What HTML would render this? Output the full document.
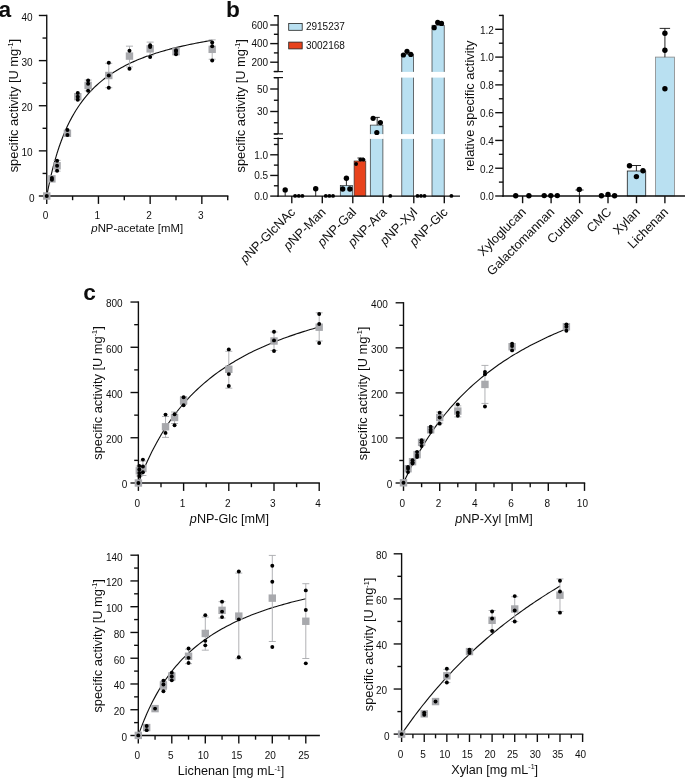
<!DOCTYPE html>
<html lang="en"><head><meta charset="utf-8"><title>Figure</title>
<style>
html,body{margin:0;padding:0;background:#fff;}
svg{display:block;font-family:"Liberation Sans", Arial, Helvetica, sans-serif;fill:#111;}
</style></head><body>
<svg width="685" height="778" viewBox="0 0 685 778">
<rect width="685" height="778" fill="#fff"/>
<defs><filter id="soft" x="0" y="0" width="685" height="778" filterUnits="userSpaceOnUse"><feGaussianBlur stdDeviation="0.35"/></filter></defs>
<g filter="url(#soft)">
<text x="-1.60" y="16.90" font-size="22.7" text-anchor="start" font-weight="bold">a</text>
<text x="226.00" y="16.90" font-size="22.7" text-anchor="start" font-weight="bold">b</text>
<text x="83.30" y="300.30" font-size="22.7" text-anchor="start" font-weight="bold">c</text>
<polyline points="46.75,196.00 48.82,185.51 50.89,176.13 52.95,167.68 55.02,160.04 57.09,153.10 59.16,146.75 61.23,140.94 63.29,135.59 65.36,130.65 67.43,126.08 69.50,121.84 71.57,117.88 73.63,114.20 75.70,110.75 77.77,107.51 79.84,104.47 81.91,101.61 83.97,98.91 86.04,96.37 88.11,93.96 90.18,91.67 92.25,89.51 94.31,87.45 96.38,85.50 98.45,83.63 100.52,81.85 102.59,80.16 104.65,78.54 106.72,76.99 108.79,75.50 110.86,74.08 112.93,72.72 114.99,71.41 117.06,70.15 119.13,68.94 121.20,67.77 123.27,66.65 125.33,65.57 127.40,64.53 129.47,63.52 131.54,62.55 133.61,61.62 135.67,60.71 137.74,59.83 139.81,58.98 141.88,58.16 143.95,57.37 146.01,56.59 148.08,55.85 150.15,55.12 152.22,54.42 154.29,53.73 156.35,53.07 158.42,52.42 160.49,51.79 162.56,51.18 164.63,50.59 166.69,50.01 168.76,49.45 170.83,48.90 172.90,48.37 174.97,47.84 177.03,47.34 179.10,46.84 181.17,46.36 183.24,45.89 185.31,45.43 187.37,44.98 189.44,44.54 191.51,44.11 193.58,43.69 195.65,43.28 197.71,42.88 199.78,42.49 201.85,42.10 203.92,41.73 205.99,41.36 208.05,41.00 210.12,40.65 212.19,40.31" fill="none" stroke="#111" stroke-width="1.12"/>
<line x1="46.75" y1="196.69" x2="46.75" y2="14.71" stroke="#111" stroke-width="1.38" stroke-linecap="butt"/>
<line x1="38.85" y1="196.00" x2="46.75" y2="196.00" stroke="#111" stroke-width="1.38" stroke-linecap="butt"/>
<line x1="38.85" y1="150.87" x2="46.75" y2="150.87" stroke="#111" stroke-width="1.38" stroke-linecap="butt"/>
<line x1="38.85" y1="105.74" x2="46.75" y2="105.74" stroke="#111" stroke-width="1.38" stroke-linecap="butt"/>
<line x1="38.85" y1="60.61" x2="46.75" y2="60.61" stroke="#111" stroke-width="1.38" stroke-linecap="butt"/>
<line x1="38.85" y1="15.48" x2="46.75" y2="15.48" stroke="#111" stroke-width="1.38" stroke-linecap="butt"/>
<line x1="42.55" y1="173.44" x2="46.75" y2="173.44" stroke="#111" stroke-width="1.38" stroke-linecap="butt"/>
<line x1="42.55" y1="128.31" x2="46.75" y2="128.31" stroke="#111" stroke-width="1.38" stroke-linecap="butt"/>
<line x1="42.55" y1="83.17" x2="46.75" y2="83.17" stroke="#111" stroke-width="1.38" stroke-linecap="butt"/>
<line x1="42.55" y1="38.05" x2="46.75" y2="38.05" stroke="#111" stroke-width="1.38" stroke-linecap="butt"/>
<text x="34.45" y="201.50" font-size="10" text-anchor="end">0</text>
<text x="32.65" y="156.37" font-size="10" text-anchor="end">10</text>
<text x="32.65" y="111.24" font-size="10" text-anchor="end">20</text>
<text x="32.65" y="66.11" font-size="10" text-anchor="end">30</text>
<text x="32.65" y="20.98" font-size="10" text-anchor="end">40</text>
<line x1="46.06" y1="196.00" x2="228.39" y2="196.00" stroke="#111" stroke-width="1.38" stroke-linecap="butt"/>
<line x1="46.75" y1="196.00" x2="46.75" y2="203.90" stroke="#111" stroke-width="1.38" stroke-linecap="butt"/>
<line x1="98.45" y1="196.00" x2="98.45" y2="203.90" stroke="#111" stroke-width="1.38" stroke-linecap="butt"/>
<line x1="150.15" y1="196.00" x2="150.15" y2="203.90" stroke="#111" stroke-width="1.38" stroke-linecap="butt"/>
<line x1="201.85" y1="196.00" x2="201.85" y2="203.90" stroke="#111" stroke-width="1.38" stroke-linecap="butt"/>
<line x1="72.60" y1="196.00" x2="72.60" y2="200.20" stroke="#111" stroke-width="1.38" stroke-linecap="butt"/>
<line x1="124.30" y1="196.00" x2="124.30" y2="200.20" stroke="#111" stroke-width="1.38" stroke-linecap="butt"/>
<line x1="176.00" y1="196.00" x2="176.00" y2="200.20" stroke="#111" stroke-width="1.38" stroke-linecap="butt"/>
<line x1="227.70" y1="196.00" x2="227.70" y2="200.20" stroke="#111" stroke-width="1.38" stroke-linecap="butt"/>
<text x="45.65" y="219.20" font-size="10" text-anchor="middle">0</text>
<text x="97.35" y="219.20" font-size="10" text-anchor="middle">1</text>
<text x="149.05" y="219.20" font-size="10" text-anchor="middle">2</text>
<text x="200.75" y="219.20" font-size="10" text-anchor="middle">3</text>
<text x="18.30" y="105.60" font-size="12.85" text-anchor="middle" transform="rotate(-90 18.30 105.60)">specific activity [U mg<tspan font-size="56%" dy="-0.68em">-1</tspan><tspan dy="0.38em">]</tspan></text>
<text x="137.20" y="232.00" font-size="11.4" text-anchor="middle"><tspan font-style="italic">p</tspan>NP-acetate [mM]</text>
<line x1="57.09" y1="160.35" x2="57.09" y2="171.18" stroke="#a8a9ad" stroke-width="0.9" stroke-linecap="butt"/>
<line x1="53.59" y1="160.35" x2="60.59" y2="160.35" stroke="#a8a9ad" stroke-width="0.9" stroke-linecap="butt"/>
<line x1="53.59" y1="171.18" x2="60.59" y2="171.18" stroke="#a8a9ad" stroke-width="0.9" stroke-linecap="butt"/>
<line x1="88.11" y1="80.02" x2="88.11" y2="90.85" stroke="#a8a9ad" stroke-width="0.9" stroke-linecap="butt"/>
<line x1="84.61" y1="80.02" x2="91.61" y2="80.02" stroke="#a8a9ad" stroke-width="0.9" stroke-linecap="butt"/>
<line x1="84.61" y1="90.85" x2="91.61" y2="90.85" stroke="#a8a9ad" stroke-width="0.9" stroke-linecap="butt"/>
<line x1="108.79" y1="63.32" x2="108.79" y2="87.69" stroke="#a8a9ad" stroke-width="0.9" stroke-linecap="butt"/>
<line x1="105.29" y1="63.32" x2="112.29" y2="63.32" stroke="#a8a9ad" stroke-width="0.9" stroke-linecap="butt"/>
<line x1="105.29" y1="87.69" x2="112.29" y2="87.69" stroke="#a8a9ad" stroke-width="0.9" stroke-linecap="butt"/>
<line x1="129.47" y1="46.17" x2="129.47" y2="66.93" stroke="#a8a9ad" stroke-width="0.9" stroke-linecap="butt"/>
<line x1="125.97" y1="46.17" x2="132.97" y2="46.17" stroke="#a8a9ad" stroke-width="0.9" stroke-linecap="butt"/>
<line x1="125.97" y1="66.93" x2="132.97" y2="66.93" stroke="#a8a9ad" stroke-width="0.9" stroke-linecap="butt"/>
<line x1="150.15" y1="42.11" x2="150.15" y2="55.65" stroke="#a8a9ad" stroke-width="0.9" stroke-linecap="butt"/>
<line x1="146.65" y1="42.11" x2="153.65" y2="42.11" stroke="#a8a9ad" stroke-width="0.9" stroke-linecap="butt"/>
<line x1="146.65" y1="55.65" x2="153.65" y2="55.65" stroke="#a8a9ad" stroke-width="0.9" stroke-linecap="butt"/>
<line x1="176.00" y1="47.97" x2="176.00" y2="54.74" stroke="#a8a9ad" stroke-width="0.9" stroke-linecap="butt"/>
<line x1="172.50" y1="47.97" x2="179.50" y2="47.97" stroke="#a8a9ad" stroke-width="0.9" stroke-linecap="butt"/>
<line x1="172.50" y1="54.74" x2="179.50" y2="54.74" stroke="#a8a9ad" stroke-width="0.9" stroke-linecap="butt"/>
<line x1="212.19" y1="39.85" x2="212.19" y2="59.26" stroke="#a8a9ad" stroke-width="0.9" stroke-linecap="butt"/>
<line x1="208.69" y1="39.85" x2="215.69" y2="39.85" stroke="#a8a9ad" stroke-width="0.9" stroke-linecap="butt"/>
<line x1="208.69" y1="59.26" x2="215.69" y2="59.26" stroke="#a8a9ad" stroke-width="0.9" stroke-linecap="butt"/>
<rect x="43.05" y="192.30" width="7.40" height="7.40" fill="#a8a9ad"/>
<rect x="48.22" y="175.15" width="7.40" height="7.40" fill="#a8a9ad"/>
<rect x="53.39" y="162.06" width="7.40" height="7.40" fill="#a8a9ad"/>
<rect x="63.73" y="129.57" width="7.40" height="7.40" fill="#a8a9ad"/>
<rect x="74.07" y="93.01" width="7.40" height="7.40" fill="#a8a9ad"/>
<rect x="84.41" y="81.73" width="7.40" height="7.40" fill="#a8a9ad"/>
<rect x="105.09" y="71.80" width="7.40" height="7.40" fill="#a8a9ad"/>
<rect x="125.77" y="52.40" width="7.40" height="7.40" fill="#a8a9ad"/>
<rect x="146.45" y="45.18" width="7.40" height="7.40" fill="#a8a9ad"/>
<rect x="172.30" y="47.88" width="7.40" height="7.40" fill="#a8a9ad"/>
<rect x="208.49" y="45.63" width="7.40" height="7.40" fill="#a8a9ad"/>
<circle cx="46.75" cy="196.00" r="2.0" fill="#000"/>
<circle cx="51.92" cy="179.75" r="2.0" fill="#000"/>
<circle cx="51.92" cy="177.95" r="2.0" fill="#000"/>
<circle cx="57.09" cy="170.73" r="2.0" fill="#000"/>
<circle cx="57.09" cy="165.76" r="2.0" fill="#000"/>
<circle cx="57.09" cy="160.80" r="2.0" fill="#000"/>
<circle cx="67.43" cy="135.07" r="2.0" fill="#000"/>
<circle cx="67.43" cy="130.11" r="2.0" fill="#000"/>
<circle cx="77.77" cy="99.87" r="2.0" fill="#000"/>
<circle cx="77.77" cy="96.71" r="2.0" fill="#000"/>
<circle cx="77.77" cy="93.10" r="2.0" fill="#000"/>
<circle cx="88.11" cy="90.85" r="2.0" fill="#000"/>
<circle cx="88.11" cy="83.63" r="2.0" fill="#000"/>
<circle cx="88.11" cy="80.47" r="2.0" fill="#000"/>
<circle cx="108.79" cy="87.69" r="2.0" fill="#000"/>
<circle cx="108.79" cy="75.50" r="2.0" fill="#000"/>
<circle cx="108.79" cy="62.87" r="2.0" fill="#000"/>
<circle cx="129.47" cy="68.73" r="2.0" fill="#000"/>
<circle cx="129.47" cy="50.68" r="2.0" fill="#000"/>
<circle cx="150.15" cy="57.00" r="2.0" fill="#000"/>
<circle cx="150.15" cy="47.07" r="2.0" fill="#000"/>
<circle cx="150.15" cy="45.27" r="2.0" fill="#000"/>
<circle cx="176.00" cy="54.29" r="2.0" fill="#000"/>
<circle cx="176.00" cy="51.58" r="2.0" fill="#000"/>
<circle cx="176.00" cy="50.23" r="2.0" fill="#000"/>
<circle cx="212.19" cy="60.61" r="2.0" fill="#000"/>
<circle cx="212.19" cy="46.17" r="2.0" fill="#000"/>
<circle cx="212.19" cy="42.56" r="2.0" fill="#000"/>
<rect x="340.30" y="185.36" width="12.20" height="10.74" fill="#b9e0f1" stroke="#333" stroke-width="0.7"/>
<rect x="354.10" y="161.00" width="11.70" height="35.10" fill="#e8421d" stroke="#333" stroke-width="0.7"/>
<rect x="370.30" y="125.11" width="12.60" height="70.99" fill="#b9e0f1" stroke="#333" stroke-width="0.7"/>
<rect x="369.30" y="134.10" width="14.60" height="4.80" fill="#fff"/>
<rect x="401.80" y="54.30" width="11.70" height="141.81" fill="#b9e0f1" stroke="#333" stroke-width="0.7"/>
<rect x="400.80" y="134.10" width="13.70" height="4.80" fill="#fff"/>
<rect x="400.80" y="71.90" width="13.70" height="5.70" fill="#fff"/>
<rect x="432.00" y="25.28" width="12.20" height="170.82" fill="#b9e0f1" stroke="#333" stroke-width="0.7"/>
<rect x="431.00" y="134.10" width="14.20" height="4.80" fill="#fff"/>
<rect x="431.00" y="71.90" width="14.20" height="5.70" fill="#fff"/>
<line x1="278.10" y1="196.79" x2="278.10" y2="137.59" stroke="#111" stroke-width="1.38" stroke-linecap="butt"/>
<line x1="270.20" y1="196.10" x2="278.10" y2="196.10" stroke="#111" stroke-width="1.38" stroke-linecap="butt"/>
<line x1="270.20" y1="175.45" x2="278.10" y2="175.45" stroke="#111" stroke-width="1.38" stroke-linecap="butt"/>
<line x1="270.20" y1="154.80" x2="278.10" y2="154.80" stroke="#111" stroke-width="1.38" stroke-linecap="butt"/>
<line x1="273.90" y1="185.78" x2="278.10" y2="185.78" stroke="#111" stroke-width="1.38" stroke-linecap="butt"/>
<line x1="273.90" y1="165.12" x2="278.10" y2="165.12" stroke="#111" stroke-width="1.38" stroke-linecap="butt"/>
<line x1="273.90" y1="144.47" x2="278.10" y2="144.47" stroke="#111" stroke-width="1.38" stroke-linecap="butt"/>
<text x="268.20" y="199.80" font-size="10" text-anchor="end">0.0</text>
<text x="268.20" y="179.15" font-size="10" text-anchor="end">0.5</text>
<text x="268.20" y="158.50" font-size="10" text-anchor="end">1.0</text>
<line x1="278.10" y1="133.90" x2="278.10" y2="77.60" stroke="#111" stroke-width="1.38" stroke-linecap="butt"/>
<line x1="270.20" y1="111.50" x2="278.10" y2="111.50" stroke="#111" stroke-width="1.38" stroke-linecap="butt"/>
<text x="268.20" y="115.10" font-size="10" text-anchor="end">30</text>
<line x1="270.20" y1="89.00" x2="278.10" y2="89.00" stroke="#111" stroke-width="1.38" stroke-linecap="butt"/>
<text x="268.20" y="92.60" font-size="10" text-anchor="end">50</text>
<line x1="273.90" y1="134.00" x2="278.10" y2="134.00" stroke="#111" stroke-width="1.38" stroke-linecap="butt"/>
<line x1="273.90" y1="122.75" x2="278.10" y2="122.75" stroke="#111" stroke-width="1.38" stroke-linecap="butt"/>
<line x1="273.90" y1="100.25" x2="278.10" y2="100.25" stroke="#111" stroke-width="1.38" stroke-linecap="butt"/>
<line x1="273.90" y1="77.75" x2="278.10" y2="77.75" stroke="#111" stroke-width="1.38" stroke-linecap="butt"/>
<line x1="278.10" y1="71.60" x2="278.10" y2="15.01" stroke="#111" stroke-width="1.38" stroke-linecap="butt"/>
<line x1="270.20" y1="62.20" x2="278.10" y2="62.20" stroke="#111" stroke-width="1.38" stroke-linecap="butt"/>
<text x="268.20" y="65.70" font-size="10" text-anchor="end">200</text>
<line x1="270.20" y1="43.60" x2="278.10" y2="43.60" stroke="#111" stroke-width="1.38" stroke-linecap="butt"/>
<text x="268.20" y="47.10" font-size="10" text-anchor="end">400</text>
<line x1="270.20" y1="25.00" x2="278.10" y2="25.00" stroke="#111" stroke-width="1.38" stroke-linecap="butt"/>
<text x="268.20" y="28.50" font-size="10" text-anchor="end">600</text>
<line x1="273.90" y1="71.50" x2="278.10" y2="71.50" stroke="#111" stroke-width="1.38" stroke-linecap="butt"/>
<line x1="273.90" y1="52.90" x2="278.10" y2="52.90" stroke="#111" stroke-width="1.38" stroke-linecap="butt"/>
<line x1="273.90" y1="34.30" x2="278.10" y2="34.30" stroke="#111" stroke-width="1.38" stroke-linecap="butt"/>
<line x1="273.90" y1="15.70" x2="278.10" y2="15.70" stroke="#111" stroke-width="1.38" stroke-linecap="butt"/>
<line x1="273.70" y1="133.90" x2="283.00" y2="133.90" stroke="#111" stroke-width="1.1" stroke-linecap="butt"/>
<line x1="273.70" y1="138.50" x2="283.00" y2="138.50" stroke="#111" stroke-width="1.1" stroke-linecap="butt"/>
<line x1="273.70" y1="71.60" x2="283.00" y2="71.60" stroke="#111" stroke-width="1.1" stroke-linecap="butt"/>
<line x1="273.70" y1="77.60" x2="283.00" y2="77.60" stroke="#111" stroke-width="1.1" stroke-linecap="butt"/>
<line x1="277.41" y1="196.10" x2="460.00" y2="196.10" stroke="#111" stroke-width="1.38" stroke-linecap="butt"/>
<line x1="291.80" y1="196.10" x2="291.80" y2="203.30" stroke="#111" stroke-width="1.38" stroke-linecap="butt"/>
<line x1="322.30" y1="196.10" x2="322.30" y2="203.30" stroke="#111" stroke-width="1.38" stroke-linecap="butt"/>
<line x1="352.80" y1="196.10" x2="352.80" y2="203.30" stroke="#111" stroke-width="1.38" stroke-linecap="butt"/>
<line x1="383.30" y1="196.10" x2="383.30" y2="203.30" stroke="#111" stroke-width="1.38" stroke-linecap="butt"/>
<line x1="413.80" y1="196.10" x2="413.80" y2="203.30" stroke="#111" stroke-width="1.38" stroke-linecap="butt"/>
<line x1="444.30" y1="196.10" x2="444.30" y2="203.30" stroke="#111" stroke-width="1.38" stroke-linecap="butt"/>
<line x1="285.20" y1="189.90" x2="285.20" y2="196.10" stroke="#111" stroke-width="0.9" stroke-linecap="butt"/>
<circle cx="285.20" cy="189.90" r="2.7" fill="#000"/>
<circle cx="295.10" cy="195.90" r="1.95" fill="#000"/>
<circle cx="298.80" cy="195.90" r="1.95" fill="#000"/>
<circle cx="302.40" cy="195.90" r="1.95" fill="#000"/>
<line x1="315.70" y1="188.70" x2="315.70" y2="196.10" stroke="#111" stroke-width="0.9" stroke-linecap="butt"/>
<circle cx="315.70" cy="188.70" r="2.7" fill="#000"/>
<circle cx="325.80" cy="195.90" r="1.95" fill="#000"/>
<circle cx="329.40" cy="195.90" r="1.95" fill="#000"/>
<circle cx="333.00" cy="195.90" r="1.95" fill="#000"/>
<line x1="346.40" y1="178.20" x2="346.40" y2="185.50" stroke="#111" stroke-width="0.9" stroke-linecap="butt"/>
<circle cx="346.40" cy="178.20" r="2.7" fill="#000"/>
<circle cx="342.70" cy="189.00" r="2.7" fill="#000"/>
<circle cx="349.90" cy="189.00" r="2.7" fill="#000"/>
<line x1="360.00" y1="158.00" x2="360.00" y2="161.00" stroke="#111" stroke-width="0.9" stroke-linecap="butt"/>
<line x1="357.50" y1="158.00" x2="363.80" y2="158.00" stroke="#111" stroke-width="0.9" stroke-linecap="butt"/>
<circle cx="356.10" cy="164.00" r="1.95" fill="#000"/>
<circle cx="360.40" cy="159.60" r="1.95" fill="#000"/>
<circle cx="363.40" cy="159.60" r="1.95" fill="#000"/>
<line x1="377.20" y1="117.40" x2="377.20" y2="125.20" stroke="#111" stroke-width="0.9" stroke-linecap="butt"/>
<line x1="374.60" y1="117.40" x2="379.80" y2="117.40" stroke="#111" stroke-width="0.9" stroke-linecap="butt"/>
<circle cx="373.10" cy="118.30" r="2.6" fill="#000"/>
<circle cx="380.40" cy="122.60" r="2.6" fill="#000"/>
<circle cx="376.80" cy="132.50" r="2.6" fill="#000"/>
<circle cx="390.30" cy="195.90" r="1.9" fill="#000"/>
<circle cx="403.40" cy="55.00" r="2.6" fill="#000"/>
<circle cx="407.00" cy="51.30" r="2.6" fill="#000"/>
<circle cx="410.80" cy="54.40" r="2.6" fill="#000"/>
<circle cx="417.50" cy="195.90" r="1.9" fill="#000"/>
<circle cx="421.00" cy="195.90" r="1.9" fill="#000"/>
<circle cx="424.50" cy="195.90" r="1.9" fill="#000"/>
<circle cx="434.20" cy="27.70" r="2.6" fill="#000"/>
<circle cx="437.70" cy="22.40" r="2.6" fill="#000"/>
<circle cx="441.50" cy="23.40" r="2.6" fill="#000"/>
<circle cx="451.40" cy="195.90" r="1.9" fill="#000"/>
<text x="296.00" y="212.90" font-size="12.7" text-anchor="end" transform="rotate(-45 296.00 212.90)"><tspan font-style="italic">p</tspan>NP-GlcNAc</text>
<text x="326.50" y="212.90" font-size="12.7" text-anchor="end" transform="rotate(-45 326.50 212.90)"><tspan font-style="italic">p</tspan>NP-Man</text>
<text x="357.00" y="212.90" font-size="12.7" text-anchor="end" transform="rotate(-45 357.00 212.90)"><tspan font-style="italic">p</tspan>NP-Gal</text>
<text x="387.50" y="212.90" font-size="12.7" text-anchor="end" transform="rotate(-45 387.50 212.90)"><tspan font-style="italic">p</tspan>NP-Ara</text>
<text x="418.00" y="212.90" font-size="12.7" text-anchor="end" transform="rotate(-45 418.00 212.90)"><tspan font-style="italic">p</tspan>NP-Xyl</text>
<text x="448.50" y="212.90" font-size="12.7" text-anchor="end" transform="rotate(-45 448.50 212.90)"><tspan font-style="italic">p</tspan>NP-Glc</text>
<rect x="288.70" y="23.50" width="13.50" height="6.80" fill="#b9e0f1" stroke="#222" stroke-width="0.8"/>
<rect x="288.70" y="42.10" width="13.50" height="6.80" fill="#e8421d" stroke="#222" stroke-width="0.8"/>
<text x="305.90" y="30.40" font-size="10" text-anchor="start">2915237</text>
<text x="305.90" y="49.10" font-size="10" text-anchor="start">3002168</text>
<text x="245.10" y="105.80" font-size="12.85" text-anchor="middle" transform="rotate(-90 245.10 105.80)">specific activity [U mg<tspan font-size="56%" dy="-0.68em">-1</tspan><tspan dy="0.38em">]</tspan></text>
<rect x="627.30" y="171.00" width="18.40" height="25.00" fill="#b9e0f1" stroke="#222" stroke-width="0.8"/>
<rect x="655.50" y="57.10" width="19.00" height="138.90" fill="#b9e0f1" stroke="#888" stroke-width="0.8"/>
<line x1="503.10" y1="196.69" x2="503.10" y2="14.74" stroke="#111" stroke-width="1.38" stroke-linecap="butt"/>
<line x1="495.20" y1="196.00" x2="503.10" y2="196.00" stroke="#111" stroke-width="1.38" stroke-linecap="butt"/>
<line x1="495.20" y1="168.22" x2="503.10" y2="168.22" stroke="#111" stroke-width="1.38" stroke-linecap="butt"/>
<line x1="495.20" y1="140.44" x2="503.10" y2="140.44" stroke="#111" stroke-width="1.38" stroke-linecap="butt"/>
<line x1="495.20" y1="112.66" x2="503.10" y2="112.66" stroke="#111" stroke-width="1.38" stroke-linecap="butt"/>
<line x1="495.20" y1="84.88" x2="503.10" y2="84.88" stroke="#111" stroke-width="1.38" stroke-linecap="butt"/>
<line x1="495.20" y1="57.10" x2="503.10" y2="57.10" stroke="#111" stroke-width="1.38" stroke-linecap="butt"/>
<line x1="495.20" y1="29.32" x2="503.10" y2="29.32" stroke="#111" stroke-width="1.38" stroke-linecap="butt"/>
<line x1="498.90" y1="182.11" x2="503.10" y2="182.11" stroke="#111" stroke-width="1.38" stroke-linecap="butt"/>
<line x1="498.90" y1="154.33" x2="503.10" y2="154.33" stroke="#111" stroke-width="1.38" stroke-linecap="butt"/>
<line x1="498.90" y1="126.55" x2="503.10" y2="126.55" stroke="#111" stroke-width="1.38" stroke-linecap="butt"/>
<line x1="498.90" y1="98.77" x2="503.10" y2="98.77" stroke="#111" stroke-width="1.38" stroke-linecap="butt"/>
<line x1="498.90" y1="70.99" x2="503.10" y2="70.99" stroke="#111" stroke-width="1.38" stroke-linecap="butt"/>
<line x1="498.90" y1="43.21" x2="503.10" y2="43.21" stroke="#111" stroke-width="1.38" stroke-linecap="butt"/>
<line x1="498.90" y1="15.43" x2="503.10" y2="15.43" stroke="#111" stroke-width="1.38" stroke-linecap="butt"/>
<text x="493.90" y="200.30" font-size="10" text-anchor="end">0.0</text>
<text x="493.90" y="172.52" font-size="10" text-anchor="end">0.2</text>
<text x="493.90" y="144.74" font-size="10" text-anchor="end">0.4</text>
<text x="493.90" y="116.96" font-size="10" text-anchor="end">0.6</text>
<text x="493.90" y="89.18" font-size="10" text-anchor="end">0.8</text>
<text x="493.90" y="61.40" font-size="10" text-anchor="end">1.0</text>
<text x="493.90" y="33.62" font-size="10" text-anchor="end">1.2</text>
<line x1="502.41" y1="196.00" x2="685.00" y2="196.00" stroke="#111" stroke-width="1.38" stroke-linecap="butt"/>
<line x1="522.60" y1="196.00" x2="522.60" y2="203.20" stroke="#111" stroke-width="1.38" stroke-linecap="butt"/>
<line x1="551.10" y1="196.00" x2="551.10" y2="203.20" stroke="#111" stroke-width="1.38" stroke-linecap="butt"/>
<line x1="579.60" y1="196.00" x2="579.60" y2="203.20" stroke="#111" stroke-width="1.38" stroke-linecap="butt"/>
<line x1="608.00" y1="196.00" x2="608.00" y2="203.20" stroke="#111" stroke-width="1.38" stroke-linecap="butt"/>
<line x1="636.50" y1="196.00" x2="636.50" y2="203.20" stroke="#111" stroke-width="1.38" stroke-linecap="butt"/>
<line x1="664.90" y1="196.00" x2="664.90" y2="203.20" stroke="#111" stroke-width="1.38" stroke-linecap="butt"/>
<circle cx="515.70" cy="195.80" r="2.7" fill="#000"/>
<circle cx="528.90" cy="195.80" r="2.7" fill="#000"/>
<circle cx="544.20" cy="195.60" r="2.7" fill="#000"/>
<circle cx="550.80" cy="195.60" r="2.7" fill="#000"/>
<circle cx="557.30" cy="195.60" r="2.7" fill="#000"/>
<line x1="579.40" y1="189.40" x2="579.40" y2="196.00" stroke="#111" stroke-width="0.9" stroke-linecap="butt"/>
<line x1="575.50" y1="190.00" x2="583.50" y2="190.00" stroke="#111" stroke-width="0.9" stroke-linecap="butt"/>
<circle cx="579.30" cy="189.40" r="2.7" fill="#000"/>
<circle cx="601.40" cy="195.70" r="2.7" fill="#000"/>
<circle cx="608.00" cy="194.40" r="2.7" fill="#000"/>
<circle cx="614.60" cy="195.70" r="2.7" fill="#000"/>
<line x1="636.40" y1="165.50" x2="636.40" y2="171.00" stroke="#111" stroke-width="0.9" stroke-linecap="butt"/>
<line x1="632.00" y1="165.50" x2="641.00" y2="165.50" stroke="#111" stroke-width="0.9" stroke-linecap="butt"/>
<circle cx="629.50" cy="165.80" r="2.7" fill="#000"/>
<circle cx="643.00" cy="170.70" r="2.7" fill="#000"/>
<circle cx="636.40" cy="176.60" r="2.7" fill="#000"/>
<line x1="664.90" y1="28.40" x2="664.90" y2="57.20" stroke="#111" stroke-width="0.9" stroke-linecap="butt"/>
<line x1="659.70" y1="28.40" x2="670.10" y2="28.40" stroke="#111" stroke-width="0.9" stroke-linecap="butt"/>
<circle cx="664.90" cy="33.30" r="2.7" fill="#000"/>
<circle cx="664.90" cy="50.30" r="2.7" fill="#000"/>
<circle cx="664.90" cy="88.80" r="2.7" fill="#000"/>
<text x="526.80" y="212.80" font-size="12.7" text-anchor="end" transform="rotate(-45 526.80 212.80)">Xyloglucan</text>
<text x="555.30" y="212.80" font-size="12.7" text-anchor="end" transform="rotate(-45 555.30 212.80)">Galactomannan</text>
<text x="583.80" y="212.80" font-size="12.7" text-anchor="end" transform="rotate(-45 583.80 212.80)">Curdlan</text>
<text x="612.20" y="212.80" font-size="12.7" text-anchor="end" transform="rotate(-45 612.20 212.80)">CMC</text>
<text x="640.70" y="212.80" font-size="12.7" text-anchor="end" transform="rotate(-45 640.70 212.80)">Xylan</text>
<text x="669.10" y="212.80" font-size="12.7" text-anchor="end" transform="rotate(-45 669.10 212.80)">Lichenan</text>
<text x="474.50" y="105.80" font-size="12.85" text-anchor="middle" transform="rotate(-90 474.50 105.80)">relative specific activity</text>
<polyline points="138.40,483.00 140.66,477.10 142.92,471.49 145.18,466.15 147.44,461.07 149.70,456.23 151.96,451.60 154.22,447.18 156.48,442.96 158.74,438.91 161.00,435.03 163.26,431.31 165.52,427.74 167.78,424.31 170.04,421.02 172.30,417.84 174.56,414.79 176.82,411.84 179.08,409.00 181.34,406.26 183.60,403.62 185.86,401.06 188.12,398.59 190.38,396.20 192.64,393.89 194.90,391.65 197.16,389.49 199.42,387.38 201.68,385.35 203.94,383.37 206.20,381.45 208.46,379.59 210.72,377.78 212.98,376.02 215.24,374.31 217.50,372.64 219.76,371.03 222.02,369.45 224.28,367.92 226.54,366.42 228.80,364.97 231.06,363.55 233.32,362.17 235.58,360.82 237.84,359.50 240.10,358.22 242.36,356.96 244.62,355.74 246.88,354.54 249.14,353.37 251.40,352.23 253.66,351.12 255.92,350.03 258.18,348.96 260.44,347.91 262.70,346.89 264.96,345.89 267.22,344.91 269.48,343.96 271.74,343.02 274.00,342.10 276.26,341.20 278.52,340.31 280.78,339.45 283.04,338.60 285.30,337.77 287.56,336.95 289.82,336.15 292.08,335.37 294.34,334.60 296.60,333.84 298.86,333.10 301.12,332.37 303.38,331.65 305.64,330.95 307.90,330.26 310.16,329.58 312.42,328.92 314.68,328.26 316.94,327.62 319.20,326.98" fill="none" stroke="#111" stroke-width="1.12"/>
<line x1="138.40" y1="483.69" x2="138.40" y2="301.35" stroke="#111" stroke-width="1.38" stroke-linecap="butt"/>
<line x1="130.50" y1="483.00" x2="138.40" y2="483.00" stroke="#111" stroke-width="1.38" stroke-linecap="butt"/>
<line x1="130.50" y1="437.76" x2="138.40" y2="437.76" stroke="#111" stroke-width="1.38" stroke-linecap="butt"/>
<line x1="130.50" y1="392.52" x2="138.40" y2="392.52" stroke="#111" stroke-width="1.38" stroke-linecap="butt"/>
<line x1="130.50" y1="347.28" x2="138.40" y2="347.28" stroke="#111" stroke-width="1.38" stroke-linecap="butt"/>
<line x1="130.50" y1="302.04" x2="138.40" y2="302.04" stroke="#111" stroke-width="1.38" stroke-linecap="butt"/>
<line x1="134.20" y1="460.38" x2="138.40" y2="460.38" stroke="#111" stroke-width="1.38" stroke-linecap="butt"/>
<line x1="134.20" y1="415.14" x2="138.40" y2="415.14" stroke="#111" stroke-width="1.38" stroke-linecap="butt"/>
<line x1="134.20" y1="369.90" x2="138.40" y2="369.90" stroke="#111" stroke-width="1.38" stroke-linecap="butt"/>
<line x1="134.20" y1="324.66" x2="138.40" y2="324.66" stroke="#111" stroke-width="1.38" stroke-linecap="butt"/>
<text x="127.20" y="488.40" font-size="10" text-anchor="end">0</text>
<text x="122.70" y="443.16" font-size="10" text-anchor="end">200</text>
<text x="122.70" y="397.92" font-size="10" text-anchor="end">400</text>
<text x="122.70" y="352.68" font-size="10" text-anchor="end">600</text>
<text x="122.70" y="307.44" font-size="10" text-anchor="end">800</text>
<line x1="137.71" y1="483.00" x2="319.89" y2="483.00" stroke="#111" stroke-width="1.38" stroke-linecap="butt"/>
<line x1="138.40" y1="483.00" x2="138.40" y2="490.90" stroke="#111" stroke-width="1.38" stroke-linecap="butt"/>
<line x1="183.60" y1="483.00" x2="183.60" y2="490.90" stroke="#111" stroke-width="1.38" stroke-linecap="butt"/>
<line x1="228.80" y1="483.00" x2="228.80" y2="490.90" stroke="#111" stroke-width="1.38" stroke-linecap="butt"/>
<line x1="274.00" y1="483.00" x2="274.00" y2="490.90" stroke="#111" stroke-width="1.38" stroke-linecap="butt"/>
<line x1="319.20" y1="483.00" x2="319.20" y2="490.90" stroke="#111" stroke-width="1.38" stroke-linecap="butt"/>
<line x1="161.00" y1="483.00" x2="161.00" y2="487.20" stroke="#111" stroke-width="1.38" stroke-linecap="butt"/>
<line x1="206.20" y1="483.00" x2="206.20" y2="487.20" stroke="#111" stroke-width="1.38" stroke-linecap="butt"/>
<line x1="251.40" y1="483.00" x2="251.40" y2="487.20" stroke="#111" stroke-width="1.38" stroke-linecap="butt"/>
<line x1="296.60" y1="483.00" x2="296.60" y2="487.20" stroke="#111" stroke-width="1.38" stroke-linecap="butt"/>
<text x="137.30" y="506.80" font-size="10" text-anchor="middle">0</text>
<text x="182.50" y="506.80" font-size="10" text-anchor="middle">1</text>
<text x="227.70" y="506.80" font-size="10" text-anchor="middle">2</text>
<text x="272.90" y="506.80" font-size="10" text-anchor="middle">3</text>
<text x="318.10" y="506.80" font-size="10" text-anchor="middle">4</text>
<text x="102.00" y="393.02" font-size="12.85" text-anchor="middle" transform="rotate(-90 102.00 393.02)">specific activity [U mg<tspan font-size="56%" dy="-0.68em">-1</tspan><tspan dy="0.38em">]</tspan></text>
<text x="229.40" y="522.80" font-size="12.6" text-anchor="middle"><tspan font-style="italic">p</tspan>NP-Glc [mM]</text>
<line x1="139.30" y1="466.00" x2="139.30" y2="476.00" stroke="#a8a9ad" stroke-width="0.9" stroke-linecap="butt"/>
<line x1="135.80" y1="466.00" x2="142.80" y2="466.00" stroke="#a8a9ad" stroke-width="0.9" stroke-linecap="butt"/>
<line x1="135.80" y1="476.00" x2="142.80" y2="476.00" stroke="#a8a9ad" stroke-width="0.9" stroke-linecap="butt"/>
<line x1="142.92" y1="461.00" x2="142.92" y2="475.50" stroke="#a8a9ad" stroke-width="0.9" stroke-linecap="butt"/>
<line x1="139.42" y1="461.00" x2="146.42" y2="461.00" stroke="#a8a9ad" stroke-width="0.9" stroke-linecap="butt"/>
<line x1="139.42" y1="475.50" x2="146.42" y2="475.50" stroke="#a8a9ad" stroke-width="0.9" stroke-linecap="butt"/>
<line x1="165.52" y1="416.50" x2="165.52" y2="437.40" stroke="#a8a9ad" stroke-width="0.9" stroke-linecap="butt"/>
<line x1="162.02" y1="416.50" x2="169.02" y2="416.50" stroke="#a8a9ad" stroke-width="0.9" stroke-linecap="butt"/>
<line x1="162.02" y1="437.40" x2="169.02" y2="437.40" stroke="#a8a9ad" stroke-width="0.9" stroke-linecap="butt"/>
<line x1="174.56" y1="412.00" x2="174.56" y2="423.50" stroke="#a8a9ad" stroke-width="0.9" stroke-linecap="butt"/>
<line x1="171.06" y1="412.00" x2="178.06" y2="412.00" stroke="#a8a9ad" stroke-width="0.9" stroke-linecap="butt"/>
<line x1="171.06" y1="423.50" x2="178.06" y2="423.50" stroke="#a8a9ad" stroke-width="0.9" stroke-linecap="butt"/>
<line x1="183.60" y1="396.50" x2="183.60" y2="404.50" stroke="#a8a9ad" stroke-width="0.9" stroke-linecap="butt"/>
<line x1="180.10" y1="396.50" x2="187.10" y2="396.50" stroke="#a8a9ad" stroke-width="0.9" stroke-linecap="butt"/>
<line x1="180.10" y1="404.50" x2="187.10" y2="404.50" stroke="#a8a9ad" stroke-width="0.9" stroke-linecap="butt"/>
<line x1="228.80" y1="351.30" x2="228.80" y2="388.20" stroke="#a8a9ad" stroke-width="0.9" stroke-linecap="butt"/>
<line x1="225.30" y1="351.30" x2="232.30" y2="351.30" stroke="#a8a9ad" stroke-width="0.9" stroke-linecap="butt"/>
<line x1="225.30" y1="388.20" x2="232.30" y2="388.20" stroke="#a8a9ad" stroke-width="0.9" stroke-linecap="butt"/>
<line x1="274.00" y1="332.00" x2="274.00" y2="350.50" stroke="#a8a9ad" stroke-width="0.9" stroke-linecap="butt"/>
<line x1="270.50" y1="332.00" x2="277.50" y2="332.00" stroke="#a8a9ad" stroke-width="0.9" stroke-linecap="butt"/>
<line x1="270.50" y1="350.50" x2="277.50" y2="350.50" stroke="#a8a9ad" stroke-width="0.9" stroke-linecap="butt"/>
<line x1="319.20" y1="312.80" x2="319.20" y2="341.00" stroke="#a8a9ad" stroke-width="0.9" stroke-linecap="butt"/>
<line x1="315.70" y1="312.80" x2="322.70" y2="312.80" stroke="#a8a9ad" stroke-width="0.9" stroke-linecap="butt"/>
<line x1="315.70" y1="341.00" x2="322.70" y2="341.00" stroke="#a8a9ad" stroke-width="0.9" stroke-linecap="butt"/>
<rect x="134.70" y="479.30" width="7.40" height="7.40" fill="#a8a9ad"/>
<rect x="135.60" y="467.10" width="7.40" height="7.40" fill="#a8a9ad"/>
<rect x="139.22" y="464.80" width="7.40" height="7.40" fill="#a8a9ad"/>
<rect x="161.82" y="423.10" width="7.40" height="7.40" fill="#a8a9ad"/>
<rect x="170.86" y="413.80" width="7.40" height="7.40" fill="#a8a9ad"/>
<rect x="179.90" y="396.70" width="7.40" height="7.40" fill="#a8a9ad"/>
<rect x="225.10" y="365.60" width="7.40" height="7.40" fill="#a8a9ad"/>
<rect x="270.30" y="337.30" width="7.40" height="7.40" fill="#a8a9ad"/>
<rect x="315.50" y="323.50" width="7.40" height="7.40" fill="#a8a9ad"/>
<circle cx="138.40" cy="483.00" r="1.95" fill="#000"/>
<circle cx="139.30" cy="465.90" r="1.95" fill="#000"/>
<circle cx="139.30" cy="469.50" r="1.95" fill="#000"/>
<circle cx="139.30" cy="473.00" r="1.95" fill="#000"/>
<circle cx="139.30" cy="476.00" r="1.95" fill="#000"/>
<circle cx="142.92" cy="459.60" r="1.95" fill="#000"/>
<circle cx="142.92" cy="466.50" r="1.95" fill="#000"/>
<circle cx="142.92" cy="472.20" r="1.95" fill="#000"/>
<circle cx="165.52" cy="414.60" r="1.95" fill="#000"/>
<circle cx="165.52" cy="432.90" r="1.95" fill="#000"/>
<circle cx="174.56" cy="414.30" r="1.95" fill="#000"/>
<circle cx="174.56" cy="425.20" r="1.95" fill="#000"/>
<circle cx="183.60" cy="397.20" r="1.95" fill="#000"/>
<circle cx="183.60" cy="405.30" r="1.95" fill="#000"/>
<circle cx="228.80" cy="349.40" r="1.95" fill="#000"/>
<circle cx="228.80" cy="374.10" r="1.95" fill="#000"/>
<circle cx="228.80" cy="386.00" r="1.95" fill="#000"/>
<circle cx="274.00" cy="331.70" r="1.95" fill="#000"/>
<circle cx="274.00" cy="340.40" r="1.95" fill="#000"/>
<circle cx="274.00" cy="351.00" r="1.95" fill="#000"/>
<circle cx="319.20" cy="314.00" r="1.95" fill="#000"/>
<circle cx="319.20" cy="324.00" r="1.95" fill="#000"/>
<circle cx="319.20" cy="343.00" r="1.95" fill="#000"/>
<polyline points="403.50,483.00 405.54,478.54 407.57,474.23 409.61,470.06 411.64,466.02 413.68,462.11 415.72,458.31 417.75,454.63 419.79,451.06 421.83,447.60 423.86,444.23 425.90,440.97 427.94,437.79 429.97,434.70 432.01,431.70 434.04,428.77 436.08,425.93 438.12,423.16 440.15,420.46 442.19,417.83 444.23,415.27 446.26,412.77 448.30,410.33 450.33,407.96 452.37,405.63 454.41,403.37 456.44,401.16 458.48,399.00 460.51,396.89 462.55,394.82 464.59,392.81 466.62,390.83 468.66,388.90 470.70,387.02 472.73,385.17 474.77,383.36 476.81,381.59 478.84,379.86 480.88,378.16 482.91,376.50 484.95,374.87 486.99,373.28 489.02,371.71 491.06,370.18 493.10,368.68 495.13,367.20 497.17,365.75 499.20,364.33 501.24,362.94 503.28,361.57 505.31,360.23 507.35,358.91 509.38,357.62 511.42,356.35 513.46,355.10 515.49,353.87 517.53,352.66 519.57,351.48 521.60,350.31 523.64,349.17 525.67,348.04 527.71,346.94 529.75,345.85 531.78,344.78 533.82,343.72 535.86,342.69 537.89,341.67 539.93,340.66 541.97,339.68 544.00,338.70 546.04,337.75 548.07,336.80 550.11,335.88 552.15,334.96 554.18,334.06 556.22,333.17 558.25,332.30 560.29,331.44 562.33,330.59 564.36,329.75 566.40,328.93" fill="none" stroke="#111" stroke-width="1.12"/>
<line x1="403.50" y1="483.69" x2="403.50" y2="302.11" stroke="#111" stroke-width="1.38" stroke-linecap="butt"/>
<line x1="395.60" y1="483.00" x2="403.50" y2="483.00" stroke="#111" stroke-width="1.38" stroke-linecap="butt"/>
<line x1="395.60" y1="437.95" x2="403.50" y2="437.95" stroke="#111" stroke-width="1.38" stroke-linecap="butt"/>
<line x1="395.60" y1="392.90" x2="403.50" y2="392.90" stroke="#111" stroke-width="1.38" stroke-linecap="butt"/>
<line x1="395.60" y1="347.85" x2="403.50" y2="347.85" stroke="#111" stroke-width="1.38" stroke-linecap="butt"/>
<line x1="395.60" y1="302.80" x2="403.50" y2="302.80" stroke="#111" stroke-width="1.38" stroke-linecap="butt"/>
<line x1="399.30" y1="460.48" x2="403.50" y2="460.48" stroke="#111" stroke-width="1.38" stroke-linecap="butt"/>
<line x1="399.30" y1="415.43" x2="403.50" y2="415.43" stroke="#111" stroke-width="1.38" stroke-linecap="butt"/>
<line x1="399.30" y1="370.38" x2="403.50" y2="370.38" stroke="#111" stroke-width="1.38" stroke-linecap="butt"/>
<line x1="399.30" y1="325.32" x2="403.50" y2="325.32" stroke="#111" stroke-width="1.38" stroke-linecap="butt"/>
<text x="392.30" y="488.40" font-size="10" text-anchor="end">0</text>
<text x="387.80" y="443.35" font-size="10" text-anchor="end">100</text>
<text x="387.80" y="398.30" font-size="10" text-anchor="end">200</text>
<text x="387.80" y="353.25" font-size="10" text-anchor="end">300</text>
<text x="387.80" y="308.20" font-size="10" text-anchor="end">400</text>
<line x1="402.81" y1="483.00" x2="585.19" y2="483.00" stroke="#111" stroke-width="1.38" stroke-linecap="butt"/>
<line x1="403.50" y1="483.00" x2="403.50" y2="490.90" stroke="#111" stroke-width="1.38" stroke-linecap="butt"/>
<line x1="439.70" y1="483.00" x2="439.70" y2="490.90" stroke="#111" stroke-width="1.38" stroke-linecap="butt"/>
<line x1="475.90" y1="483.00" x2="475.90" y2="490.90" stroke="#111" stroke-width="1.38" stroke-linecap="butt"/>
<line x1="512.10" y1="483.00" x2="512.10" y2="490.90" stroke="#111" stroke-width="1.38" stroke-linecap="butt"/>
<line x1="548.30" y1="483.00" x2="548.30" y2="490.90" stroke="#111" stroke-width="1.38" stroke-linecap="butt"/>
<line x1="584.50" y1="483.00" x2="584.50" y2="490.90" stroke="#111" stroke-width="1.38" stroke-linecap="butt"/>
<line x1="421.60" y1="483.00" x2="421.60" y2="487.20" stroke="#111" stroke-width="1.38" stroke-linecap="butt"/>
<line x1="457.80" y1="483.00" x2="457.80" y2="487.20" stroke="#111" stroke-width="1.38" stroke-linecap="butt"/>
<line x1="494.00" y1="483.00" x2="494.00" y2="487.20" stroke="#111" stroke-width="1.38" stroke-linecap="butt"/>
<line x1="530.20" y1="483.00" x2="530.20" y2="487.20" stroke="#111" stroke-width="1.38" stroke-linecap="butt"/>
<line x1="566.40" y1="483.00" x2="566.40" y2="487.20" stroke="#111" stroke-width="1.38" stroke-linecap="butt"/>
<text x="402.40" y="506.80" font-size="10" text-anchor="middle">0</text>
<text x="438.60" y="506.80" font-size="10" text-anchor="middle">2</text>
<text x="474.80" y="506.80" font-size="10" text-anchor="middle">4</text>
<text x="511.00" y="506.80" font-size="10" text-anchor="middle">6</text>
<text x="547.20" y="506.80" font-size="10" text-anchor="middle">8</text>
<text x="582.40" y="506.80" font-size="10" text-anchor="middle">10</text>
<text x="367.10" y="393.40" font-size="12.85" text-anchor="middle" transform="rotate(-90 367.10 393.40)">specific activity [U mg<tspan font-size="56%" dy="-0.68em">-1</tspan><tspan dy="0.38em">]</tspan></text>
<text x="494.00" y="522.80" font-size="12.6" text-anchor="middle"><tspan font-style="italic">p</tspan>NP-Xyl [mM]</text>
<line x1="439.70" y1="412.01" x2="439.70" y2="423.05" stroke="#a8a9ad" stroke-width="0.9" stroke-linecap="butt"/>
<line x1="436.20" y1="412.01" x2="443.20" y2="412.01" stroke="#a8a9ad" stroke-width="0.9" stroke-linecap="butt"/>
<line x1="436.20" y1="423.05" x2="443.20" y2="423.05" stroke="#a8a9ad" stroke-width="0.9" stroke-linecap="butt"/>
<line x1="457.80" y1="405.88" x2="457.80" y2="416.92" stroke="#a8a9ad" stroke-width="0.9" stroke-linecap="butt"/>
<line x1="454.30" y1="405.88" x2="461.30" y2="405.88" stroke="#a8a9ad" stroke-width="0.9" stroke-linecap="butt"/>
<line x1="454.30" y1="416.92" x2="461.30" y2="416.92" stroke="#a8a9ad" stroke-width="0.9" stroke-linecap="butt"/>
<line x1="484.95" y1="365.42" x2="484.95" y2="403.43" stroke="#a8a9ad" stroke-width="0.9" stroke-linecap="butt"/>
<line x1="481.45" y1="365.42" x2="488.45" y2="365.42" stroke="#a8a9ad" stroke-width="0.9" stroke-linecap="butt"/>
<line x1="481.45" y1="403.43" x2="488.45" y2="403.43" stroke="#a8a9ad" stroke-width="0.9" stroke-linecap="butt"/>
<rect x="399.80" y="479.10" width="7.40" height="7.40" fill="#a8a9ad"/>
<rect x="404.32" y="465.03" width="7.40" height="7.40" fill="#a8a9ad"/>
<rect x="408.85" y="457.98" width="7.40" height="7.40" fill="#a8a9ad"/>
<rect x="413.38" y="450.93" width="7.40" height="7.40" fill="#a8a9ad"/>
<rect x="417.90" y="438.67" width="7.40" height="7.40" fill="#a8a9ad"/>
<rect x="426.95" y="426.10" width="7.40" height="7.40" fill="#a8a9ad"/>
<rect x="436.00" y="413.83" width="7.40" height="7.40" fill="#a8a9ad"/>
<rect x="454.10" y="407.40" width="7.40" height="7.40" fill="#a8a9ad"/>
<rect x="481.25" y="380.72" width="7.40" height="7.40" fill="#a8a9ad"/>
<rect x="508.40" y="343.02" width="7.40" height="7.40" fill="#a8a9ad"/>
<rect x="562.70" y="323.09" width="7.40" height="7.40" fill="#a8a9ad"/>
<circle cx="403.50" cy="482.80" r="1.95" fill="#000"/>
<circle cx="408.02" cy="466.89" r="1.95" fill="#000"/>
<circle cx="408.02" cy="468.73" r="1.95" fill="#000"/>
<circle cx="408.02" cy="472.10" r="1.95" fill="#000"/>
<circle cx="412.55" cy="460.15" r="1.95" fill="#000"/>
<circle cx="412.55" cy="462.29" r="1.95" fill="#000"/>
<circle cx="412.55" cy="463.52" r="1.95" fill="#000"/>
<circle cx="417.07" cy="451.87" r="1.95" fill="#000"/>
<circle cx="417.07" cy="454.93" r="1.95" fill="#000"/>
<circle cx="417.07" cy="457.08" r="1.95" fill="#000"/>
<circle cx="421.60" cy="440.22" r="1.95" fill="#000"/>
<circle cx="421.60" cy="442.37" r="1.95" fill="#000"/>
<circle cx="421.60" cy="446.04" r="1.95" fill="#000"/>
<circle cx="430.65" cy="426.73" r="1.95" fill="#000"/>
<circle cx="430.65" cy="429.80" r="1.95" fill="#000"/>
<circle cx="430.65" cy="431.94" r="1.95" fill="#000"/>
<circle cx="439.70" cy="412.63" r="1.95" fill="#000"/>
<circle cx="439.70" cy="417.53" r="1.95" fill="#000"/>
<circle cx="439.70" cy="423.66" r="1.95" fill="#000"/>
<circle cx="457.80" cy="404.35" r="1.95" fill="#000"/>
<circle cx="457.80" cy="412.63" r="1.95" fill="#000"/>
<circle cx="457.80" cy="415.69" r="1.95" fill="#000"/>
<circle cx="484.95" cy="371.85" r="1.95" fill="#000"/>
<circle cx="484.95" cy="374.31" r="1.95" fill="#000"/>
<circle cx="484.95" cy="406.50" r="1.95" fill="#000"/>
<circle cx="512.10" cy="343.65" r="1.95" fill="#000"/>
<circle cx="512.10" cy="346.10" r="1.95" fill="#000"/>
<circle cx="512.10" cy="350.39" r="1.95" fill="#000"/>
<circle cx="566.40" cy="324.34" r="1.95" fill="#000"/>
<circle cx="566.40" cy="326.79" r="1.95" fill="#000"/>
<circle cx="566.40" cy="330.77" r="1.95" fill="#000"/>
<polyline points="138.30,735.50 140.39,729.63 142.49,724.12 144.58,718.92 146.68,714.01 148.77,709.38 150.86,704.99 152.96,700.83 155.05,696.88 157.14,693.13 159.24,689.55 161.33,686.15 163.43,682.90 165.52,679.80 167.61,676.83 169.71,673.99 171.80,671.27 173.89,668.67 175.99,666.17 178.08,663.76 180.18,661.45 182.27,659.23 184.36,657.09 186.46,655.04 188.55,653.05 190.64,651.14 192.74,649.29 194.83,647.50 196.93,645.78 199.02,644.11 201.11,642.49 203.21,640.93 205.30,639.42 207.39,637.95 209.49,636.53 211.58,635.15 213.68,633.82 215.77,632.52 217.86,631.26 219.96,630.03 222.05,628.84 224.14,627.68 226.24,626.55 228.33,625.46 230.43,624.39 232.52,623.35 234.61,622.34 236.71,621.35 238.80,620.39 240.89,619.45 242.99,618.54 245.08,617.64 247.18,616.77 249.27,615.92 251.36,615.09 253.46,614.28 255.55,613.48 257.64,612.71 259.74,611.95 261.83,611.21 263.93,610.48 266.02,609.77 268.11,609.08 270.21,608.40 272.30,607.74 274.39,607.08 276.49,606.45 278.58,605.82 280.68,605.21 282.77,604.61 284.86,604.02 286.96,603.44 289.05,602.88 291.14,602.32 293.24,601.78 295.33,601.24 297.43,600.72 299.52,600.20 301.61,599.70 303.71,599.20 305.80,598.71" fill="none" stroke="#111" stroke-width="1.12"/>
<line x1="138.30" y1="736.19" x2="138.30" y2="554.49" stroke="#111" stroke-width="1.38" stroke-linecap="butt"/>
<line x1="130.40" y1="735.50" x2="138.30" y2="735.50" stroke="#111" stroke-width="1.38" stroke-linecap="butt"/>
<line x1="130.40" y1="709.74" x2="138.30" y2="709.74" stroke="#111" stroke-width="1.38" stroke-linecap="butt"/>
<line x1="130.40" y1="683.98" x2="138.30" y2="683.98" stroke="#111" stroke-width="1.38" stroke-linecap="butt"/>
<line x1="130.40" y1="658.22" x2="138.30" y2="658.22" stroke="#111" stroke-width="1.38" stroke-linecap="butt"/>
<line x1="130.40" y1="632.46" x2="138.30" y2="632.46" stroke="#111" stroke-width="1.38" stroke-linecap="butt"/>
<line x1="130.40" y1="606.70" x2="138.30" y2="606.70" stroke="#111" stroke-width="1.38" stroke-linecap="butt"/>
<line x1="130.40" y1="580.94" x2="138.30" y2="580.94" stroke="#111" stroke-width="1.38" stroke-linecap="butt"/>
<line x1="130.40" y1="555.18" x2="138.30" y2="555.18" stroke="#111" stroke-width="1.38" stroke-linecap="butt"/>
<line x1="134.10" y1="722.62" x2="138.30" y2="722.62" stroke="#111" stroke-width="1.38" stroke-linecap="butt"/>
<line x1="134.10" y1="696.86" x2="138.30" y2="696.86" stroke="#111" stroke-width="1.38" stroke-linecap="butt"/>
<line x1="134.10" y1="671.10" x2="138.30" y2="671.10" stroke="#111" stroke-width="1.38" stroke-linecap="butt"/>
<line x1="134.10" y1="645.34" x2="138.30" y2="645.34" stroke="#111" stroke-width="1.38" stroke-linecap="butt"/>
<line x1="134.10" y1="619.58" x2="138.30" y2="619.58" stroke="#111" stroke-width="1.38" stroke-linecap="butt"/>
<line x1="134.10" y1="593.82" x2="138.30" y2="593.82" stroke="#111" stroke-width="1.38" stroke-linecap="butt"/>
<line x1="134.10" y1="568.06" x2="138.30" y2="568.06" stroke="#111" stroke-width="1.38" stroke-linecap="butt"/>
<text x="127.10" y="740.90" font-size="10" text-anchor="end">0</text>
<text x="124.85" y="715.14" font-size="10" text-anchor="end">20</text>
<text x="124.85" y="689.38" font-size="10" text-anchor="end">40</text>
<text x="124.85" y="663.62" font-size="10" text-anchor="end">60</text>
<text x="124.85" y="637.86" font-size="10" text-anchor="end">80</text>
<text x="122.60" y="612.10" font-size="10" text-anchor="end">100</text>
<text x="122.60" y="586.34" font-size="10" text-anchor="end">120</text>
<text x="122.60" y="560.58" font-size="10" text-anchor="end">140</text>
<line x1="137.61" y1="735.50" x2="319.89" y2="735.50" stroke="#111" stroke-width="1.38" stroke-linecap="butt"/>
<line x1="138.30" y1="735.50" x2="138.30" y2="743.40" stroke="#111" stroke-width="1.38" stroke-linecap="butt"/>
<line x1="171.80" y1="735.50" x2="171.80" y2="743.40" stroke="#111" stroke-width="1.38" stroke-linecap="butt"/>
<line x1="205.30" y1="735.50" x2="205.30" y2="743.40" stroke="#111" stroke-width="1.38" stroke-linecap="butt"/>
<line x1="238.80" y1="735.50" x2="238.80" y2="743.40" stroke="#111" stroke-width="1.38" stroke-linecap="butt"/>
<line x1="272.30" y1="735.50" x2="272.30" y2="743.40" stroke="#111" stroke-width="1.38" stroke-linecap="butt"/>
<line x1="305.80" y1="735.50" x2="305.80" y2="743.40" stroke="#111" stroke-width="1.38" stroke-linecap="butt"/>
<line x1="155.05" y1="735.50" x2="155.05" y2="739.70" stroke="#111" stroke-width="1.38" stroke-linecap="butt"/>
<line x1="188.55" y1="735.50" x2="188.55" y2="739.70" stroke="#111" stroke-width="1.38" stroke-linecap="butt"/>
<line x1="222.05" y1="735.50" x2="222.05" y2="739.70" stroke="#111" stroke-width="1.38" stroke-linecap="butt"/>
<line x1="255.55" y1="735.50" x2="255.55" y2="739.70" stroke="#111" stroke-width="1.38" stroke-linecap="butt"/>
<line x1="289.05" y1="735.50" x2="289.05" y2="739.70" stroke="#111" stroke-width="1.38" stroke-linecap="butt"/>
<text x="137.20" y="759.30" font-size="10" text-anchor="middle">0</text>
<text x="170.70" y="759.30" font-size="10" text-anchor="middle">5</text>
<text x="203.20" y="759.30" font-size="10" text-anchor="middle">10</text>
<text x="236.70" y="759.30" font-size="10" text-anchor="middle">15</text>
<text x="270.20" y="759.30" font-size="10" text-anchor="middle">20</text>
<text x="303.70" y="759.30" font-size="10" text-anchor="middle">25</text>
<text x="101.90" y="645.84" font-size="12.85" text-anchor="middle" transform="rotate(-90 101.90 645.84)">specific activity [U mg<tspan font-size="56%" dy="-0.68em">-1</tspan><tspan dy="0.38em">]</tspan></text>
<text x="231.00" y="775.30" font-size="12.6" text-anchor="middle">Lichenan [mg mL<tspan font-size="56%" dy="-0.68em">-1</tspan><tspan dy="0.38em">]</tspan></text>
<line x1="163.43" y1="681.32" x2="163.43" y2="689.67" stroke="#a8a9ad" stroke-width="0.9" stroke-linecap="butt"/>
<line x1="159.93" y1="681.32" x2="166.93" y2="681.32" stroke="#a8a9ad" stroke-width="0.9" stroke-linecap="butt"/>
<line x1="159.93" y1="689.67" x2="166.93" y2="689.67" stroke="#a8a9ad" stroke-width="0.9" stroke-linecap="butt"/>
<line x1="171.80" y1="672.64" x2="171.80" y2="680.35" stroke="#a8a9ad" stroke-width="0.9" stroke-linecap="butt"/>
<line x1="168.30" y1="672.64" x2="175.30" y2="672.64" stroke="#a8a9ad" stroke-width="0.9" stroke-linecap="butt"/>
<line x1="168.30" y1="680.35" x2="175.30" y2="680.35" stroke="#a8a9ad" stroke-width="0.9" stroke-linecap="butt"/>
<line x1="188.55" y1="649.20" x2="188.55" y2="663.65" stroke="#a8a9ad" stroke-width="0.9" stroke-linecap="butt"/>
<line x1="185.05" y1="649.20" x2="192.05" y2="649.20" stroke="#a8a9ad" stroke-width="0.9" stroke-linecap="butt"/>
<line x1="185.05" y1="663.65" x2="192.05" y2="663.65" stroke="#a8a9ad" stroke-width="0.9" stroke-linecap="butt"/>
<line x1="205.30" y1="617.08" x2="205.30" y2="650.16" stroke="#a8a9ad" stroke-width="0.9" stroke-linecap="butt"/>
<line x1="201.80" y1="617.08" x2="208.80" y2="617.08" stroke="#a8a9ad" stroke-width="0.9" stroke-linecap="butt"/>
<line x1="201.80" y1="650.16" x2="208.80" y2="650.16" stroke="#a8a9ad" stroke-width="0.9" stroke-linecap="butt"/>
<line x1="222.05" y1="601.66" x2="222.05" y2="618.04" stroke="#a8a9ad" stroke-width="0.9" stroke-linecap="butt"/>
<line x1="218.55" y1="601.66" x2="225.55" y2="601.66" stroke="#a8a9ad" stroke-width="0.9" stroke-linecap="butt"/>
<line x1="218.55" y1="618.04" x2="225.55" y2="618.04" stroke="#a8a9ad" stroke-width="0.9" stroke-linecap="butt"/>
<line x1="238.80" y1="573.08" x2="238.80" y2="658.83" stroke="#a8a9ad" stroke-width="0.9" stroke-linecap="butt"/>
<line x1="235.30" y1="573.08" x2="242.30" y2="573.08" stroke="#a8a9ad" stroke-width="0.9" stroke-linecap="butt"/>
<line x1="235.30" y1="658.83" x2="242.30" y2="658.83" stroke="#a8a9ad" stroke-width="0.9" stroke-linecap="butt"/>
<line x1="272.30" y1="555.42" x2="272.30" y2="641.49" stroke="#a8a9ad" stroke-width="0.9" stroke-linecap="butt"/>
<line x1="268.80" y1="555.42" x2="275.80" y2="555.42" stroke="#a8a9ad" stroke-width="0.9" stroke-linecap="butt"/>
<line x1="268.80" y1="641.49" x2="275.80" y2="641.49" stroke="#a8a9ad" stroke-width="0.9" stroke-linecap="butt"/>
<line x1="305.80" y1="583.68" x2="305.80" y2="658.51" stroke="#a8a9ad" stroke-width="0.9" stroke-linecap="butt"/>
<line x1="302.30" y1="583.68" x2="309.30" y2="583.68" stroke="#a8a9ad" stroke-width="0.9" stroke-linecap="butt"/>
<line x1="302.30" y1="658.51" x2="309.30" y2="658.51" stroke="#a8a9ad" stroke-width="0.9" stroke-linecap="butt"/>
<rect x="134.60" y="731.70" width="7.40" height="7.40" fill="#a8a9ad"/>
<rect x="142.98" y="723.86" width="7.40" height="7.40" fill="#a8a9ad"/>
<rect x="151.35" y="704.92" width="7.40" height="7.40" fill="#a8a9ad"/>
<rect x="159.73" y="681.47" width="7.40" height="7.40" fill="#a8a9ad"/>
<rect x="168.10" y="672.80" width="7.40" height="7.40" fill="#a8a9ad"/>
<rect x="184.85" y="652.56" width="7.40" height="7.40" fill="#a8a9ad"/>
<rect x="201.60" y="629.76" width="7.40" height="7.40" fill="#a8a9ad"/>
<rect x="218.35" y="606.64" width="7.40" height="7.40" fill="#a8a9ad"/>
<rect x="235.10" y="612.42" width="7.40" height="7.40" fill="#a8a9ad"/>
<rect x="268.60" y="594.43" width="7.40" height="7.40" fill="#a8a9ad"/>
<rect x="302.10" y="617.56" width="7.40" height="7.40" fill="#a8a9ad"/>
<circle cx="138.30" cy="735.40" r="1.95" fill="#000"/>
<circle cx="146.68" cy="725.96" r="1.95" fill="#000"/>
<circle cx="146.68" cy="730.13" r="1.95" fill="#000"/>
<circle cx="155.05" cy="708.62" r="1.95" fill="#000"/>
<circle cx="163.43" cy="680.67" r="1.95" fill="#000"/>
<circle cx="163.43" cy="684.53" r="1.95" fill="#000"/>
<circle cx="163.43" cy="691.27" r="1.95" fill="#000"/>
<circle cx="171.80" cy="672.64" r="1.95" fill="#000"/>
<circle cx="171.80" cy="676.50" r="1.95" fill="#000"/>
<circle cx="171.80" cy="680.35" r="1.95" fill="#000"/>
<circle cx="188.55" cy="648.56" r="1.95" fill="#000"/>
<circle cx="188.55" cy="657.87" r="1.95" fill="#000"/>
<circle cx="188.55" cy="663.01" r="1.95" fill="#000"/>
<circle cx="205.30" cy="615.15" r="1.95" fill="#000"/>
<circle cx="205.30" cy="640.85" r="1.95" fill="#000"/>
<circle cx="205.30" cy="645.34" r="1.95" fill="#000"/>
<circle cx="222.05" cy="601.66" r="1.95" fill="#000"/>
<circle cx="222.05" cy="611.62" r="1.95" fill="#000"/>
<circle cx="222.05" cy="617.08" r="1.95" fill="#000"/>
<circle cx="238.80" cy="571.47" r="1.95" fill="#000"/>
<circle cx="238.80" cy="619.33" r="1.95" fill="#000"/>
<circle cx="238.80" cy="657.23" r="1.95" fill="#000"/>
<circle cx="272.30" cy="565.69" r="1.95" fill="#000"/>
<circle cx="272.30" cy="581.75" r="1.95" fill="#000"/>
<circle cx="272.30" cy="646.95" r="1.95" fill="#000"/>
<circle cx="305.80" cy="590.42" r="1.95" fill="#000"/>
<circle cx="305.80" cy="610.02" r="1.95" fill="#000"/>
<circle cx="305.80" cy="663.33" r="1.95" fill="#000"/>
<polyline points="401.60,734.10 403.58,731.22 405.56,728.38 407.54,725.58 409.52,722.82 411.50,720.10 413.48,717.41 415.46,714.76 417.44,712.14 419.42,709.56 421.40,707.02 423.38,704.51 425.36,702.03 427.34,699.58 429.32,697.16 431.30,694.78 433.28,692.43 435.25,690.10 437.23,687.81 439.21,685.54 441.19,683.30 443.17,681.09 445.15,678.91 447.13,676.75 449.11,674.62 451.09,672.51 453.07,670.43 455.05,668.38 457.03,666.35 459.01,664.34 460.99,662.36 462.97,660.40 464.95,658.46 466.93,656.54 468.91,654.65 470.89,652.78 472.87,650.92 474.85,649.09 476.83,647.28 478.81,645.50 480.79,643.73 482.77,641.97 484.75,640.24 486.73,638.53 488.71,636.84 490.69,635.16 492.67,633.50 494.65,631.86 496.62,630.24 498.60,628.63 500.58,627.05 502.56,625.47 504.54,623.92 506.52,622.38 508.50,620.85 510.48,619.34 512.46,617.85 514.44,616.37 516.42,614.91 518.40,613.46 520.38,612.02 522.36,610.60 524.34,609.20 526.32,607.81 528.30,606.43 530.28,605.06 532.26,603.71 534.24,602.37 536.22,601.04 538.20,599.73 540.18,598.43 542.16,597.14 544.14,595.86 546.12,594.60 548.10,593.34 550.08,592.10 552.06,590.87 554.04,589.65 556.02,588.44 558.00,587.25 559.98,586.06" fill="none" stroke="#111" stroke-width="1.12"/>
<line x1="401.60" y1="734.79" x2="401.60" y2="553.13" stroke="#111" stroke-width="1.38" stroke-linecap="butt"/>
<line x1="393.70" y1="734.10" x2="401.60" y2="734.10" stroke="#111" stroke-width="1.38" stroke-linecap="butt"/>
<line x1="393.70" y1="689.03" x2="401.60" y2="689.03" stroke="#111" stroke-width="1.38" stroke-linecap="butt"/>
<line x1="393.70" y1="643.96" x2="401.60" y2="643.96" stroke="#111" stroke-width="1.38" stroke-linecap="butt"/>
<line x1="393.70" y1="598.89" x2="401.60" y2="598.89" stroke="#111" stroke-width="1.38" stroke-linecap="butt"/>
<line x1="393.70" y1="553.82" x2="401.60" y2="553.82" stroke="#111" stroke-width="1.38" stroke-linecap="butt"/>
<line x1="397.40" y1="711.57" x2="401.60" y2="711.57" stroke="#111" stroke-width="1.38" stroke-linecap="butt"/>
<line x1="397.40" y1="666.50" x2="401.60" y2="666.50" stroke="#111" stroke-width="1.38" stroke-linecap="butt"/>
<line x1="397.40" y1="621.43" x2="401.60" y2="621.43" stroke="#111" stroke-width="1.38" stroke-linecap="butt"/>
<line x1="397.40" y1="576.36" x2="401.60" y2="576.36" stroke="#111" stroke-width="1.38" stroke-linecap="butt"/>
<text x="389.45" y="739.50" font-size="10" text-anchor="end">0</text>
<text x="387.20" y="694.43" font-size="10" text-anchor="end">20</text>
<text x="387.20" y="649.36" font-size="10" text-anchor="end">40</text>
<text x="387.20" y="604.29" font-size="10" text-anchor="end">60</text>
<text x="387.20" y="559.22" font-size="10" text-anchor="end">80</text>
<line x1="400.91" y1="734.10" x2="583.29" y2="734.10" stroke="#111" stroke-width="1.38" stroke-linecap="butt"/>
<line x1="401.60" y1="734.10" x2="401.60" y2="742.00" stroke="#111" stroke-width="1.38" stroke-linecap="butt"/>
<line x1="424.23" y1="734.10" x2="424.23" y2="742.00" stroke="#111" stroke-width="1.38" stroke-linecap="butt"/>
<line x1="446.85" y1="734.10" x2="446.85" y2="742.00" stroke="#111" stroke-width="1.38" stroke-linecap="butt"/>
<line x1="469.48" y1="734.10" x2="469.48" y2="742.00" stroke="#111" stroke-width="1.38" stroke-linecap="butt"/>
<line x1="492.10" y1="734.10" x2="492.10" y2="742.00" stroke="#111" stroke-width="1.38" stroke-linecap="butt"/>
<line x1="514.73" y1="734.10" x2="514.73" y2="742.00" stroke="#111" stroke-width="1.38" stroke-linecap="butt"/>
<line x1="537.35" y1="734.10" x2="537.35" y2="742.00" stroke="#111" stroke-width="1.38" stroke-linecap="butt"/>
<line x1="559.98" y1="734.10" x2="559.98" y2="742.00" stroke="#111" stroke-width="1.38" stroke-linecap="butt"/>
<line x1="582.60" y1="734.10" x2="582.60" y2="742.00" stroke="#111" stroke-width="1.38" stroke-linecap="butt"/>
<line x1="412.91" y1="734.10" x2="412.91" y2="738.30" stroke="#111" stroke-width="1.38" stroke-linecap="butt"/>
<line x1="435.54" y1="734.10" x2="435.54" y2="738.30" stroke="#111" stroke-width="1.38" stroke-linecap="butt"/>
<line x1="458.16" y1="734.10" x2="458.16" y2="738.30" stroke="#111" stroke-width="1.38" stroke-linecap="butt"/>
<line x1="480.79" y1="734.10" x2="480.79" y2="738.30" stroke="#111" stroke-width="1.38" stroke-linecap="butt"/>
<line x1="503.41" y1="734.10" x2="503.41" y2="738.30" stroke="#111" stroke-width="1.38" stroke-linecap="butt"/>
<line x1="526.04" y1="734.10" x2="526.04" y2="738.30" stroke="#111" stroke-width="1.38" stroke-linecap="butt"/>
<line x1="548.66" y1="734.10" x2="548.66" y2="738.30" stroke="#111" stroke-width="1.38" stroke-linecap="butt"/>
<line x1="571.29" y1="734.10" x2="571.29" y2="738.30" stroke="#111" stroke-width="1.38" stroke-linecap="butt"/>
<text x="400.50" y="757.90" font-size="10" text-anchor="middle">0</text>
<text x="423.12" y="757.90" font-size="10" text-anchor="middle">5</text>
<text x="444.75" y="757.90" font-size="10" text-anchor="middle">10</text>
<text x="467.38" y="757.90" font-size="10" text-anchor="middle">15</text>
<text x="490.00" y="757.90" font-size="10" text-anchor="middle">20</text>
<text x="512.62" y="757.90" font-size="10" text-anchor="middle">25</text>
<text x="535.25" y="757.90" font-size="10" text-anchor="middle">30</text>
<text x="557.88" y="757.90" font-size="10" text-anchor="middle">35</text>
<text x="580.50" y="757.90" font-size="10" text-anchor="middle">40</text>
<text x="373.50" y="644.46" font-size="12.85" text-anchor="middle" transform="rotate(-90 373.50 644.46)">specific activity [U mg<tspan font-size="56%" dy="-0.68em">-1</tspan><tspan dy="0.38em">]</tspan></text>
<text x="494.70" y="773.90" font-size="12.6" text-anchor="middle">Xylan [mg mL<tspan font-size="56%" dy="-0.68em">-1</tspan><tspan dy="0.38em">]</tspan></text>
<line x1="446.85" y1="669.37" x2="446.85" y2="682.55" stroke="#a8a9ad" stroke-width="0.9" stroke-linecap="butt"/>
<line x1="443.35" y1="669.37" x2="450.35" y2="669.37" stroke="#a8a9ad" stroke-width="0.9" stroke-linecap="butt"/>
<line x1="443.35" y1="682.55" x2="450.35" y2="682.55" stroke="#a8a9ad" stroke-width="0.9" stroke-linecap="butt"/>
<line x1="492.10" y1="610.51" x2="492.10" y2="630.44" stroke="#a8a9ad" stroke-width="0.9" stroke-linecap="butt"/>
<line x1="488.60" y1="610.51" x2="495.60" y2="610.51" stroke="#a8a9ad" stroke-width="0.9" stroke-linecap="butt"/>
<line x1="488.60" y1="630.44" x2="495.60" y2="630.44" stroke="#a8a9ad" stroke-width="0.9" stroke-linecap="butt"/>
<line x1="514.73" y1="596.72" x2="514.73" y2="621.55" stroke="#a8a9ad" stroke-width="0.9" stroke-linecap="butt"/>
<line x1="511.23" y1="596.72" x2="518.23" y2="596.72" stroke="#a8a9ad" stroke-width="0.9" stroke-linecap="butt"/>
<line x1="511.23" y1="621.55" x2="518.23" y2="621.55" stroke="#a8a9ad" stroke-width="0.9" stroke-linecap="butt"/>
<line x1="559.98" y1="578.93" x2="559.98" y2="611.43" stroke="#a8a9ad" stroke-width="0.9" stroke-linecap="butt"/>
<line x1="556.48" y1="578.93" x2="563.48" y2="578.93" stroke="#a8a9ad" stroke-width="0.9" stroke-linecap="butt"/>
<line x1="556.48" y1="611.43" x2="563.48" y2="611.43" stroke="#a8a9ad" stroke-width="0.9" stroke-linecap="butt"/>
<rect x="397.90" y="730.40" width="7.40" height="7.40" fill="#a8a9ad"/>
<rect x="420.53" y="710.13" width="7.40" height="7.40" fill="#a8a9ad"/>
<rect x="431.84" y="697.86" width="7.40" height="7.40" fill="#a8a9ad"/>
<rect x="443.15" y="672.11" width="7.40" height="7.40" fill="#a8a9ad"/>
<rect x="465.78" y="647.89" width="7.40" height="7.40" fill="#a8a9ad"/>
<rect x="488.40" y="616.62" width="7.40" height="7.40" fill="#a8a9ad"/>
<rect x="511.03" y="605.28" width="7.40" height="7.40" fill="#a8a9ad"/>
<rect x="556.27" y="591.48" width="7.40" height="7.40" fill="#a8a9ad"/>
<circle cx="401.60" cy="734.10" r="1.95" fill="#000"/>
<circle cx="424.23" cy="712.60" r="1.95" fill="#000"/>
<circle cx="424.23" cy="714.74" r="1.95" fill="#000"/>
<circle cx="435.54" cy="701.56" r="1.95" fill="#000"/>
<circle cx="446.85" cy="668.76" r="1.95" fill="#000"/>
<circle cx="446.85" cy="675.81" r="1.95" fill="#000"/>
<circle cx="446.85" cy="682.55" r="1.95" fill="#000"/>
<circle cx="469.48" cy="649.75" r="1.95" fill="#000"/>
<circle cx="469.48" cy="651.59" r="1.95" fill="#000"/>
<circle cx="469.48" cy="653.12" r="1.95" fill="#000"/>
<circle cx="492.10" cy="611.43" r="1.95" fill="#000"/>
<circle cx="492.10" cy="618.48" r="1.95" fill="#000"/>
<circle cx="492.10" cy="631.05" r="1.95" fill="#000"/>
<circle cx="514.73" cy="596.10" r="1.95" fill="#000"/>
<circle cx="514.73" cy="610.51" r="1.95" fill="#000"/>
<circle cx="514.73" cy="621.55" r="1.95" fill="#000"/>
<circle cx="559.98" cy="580.77" r="1.95" fill="#000"/>
<circle cx="559.98" cy="591.50" r="1.95" fill="#000"/>
<circle cx="559.98" cy="612.66" r="1.95" fill="#000"/>
</g></svg></body></html>
